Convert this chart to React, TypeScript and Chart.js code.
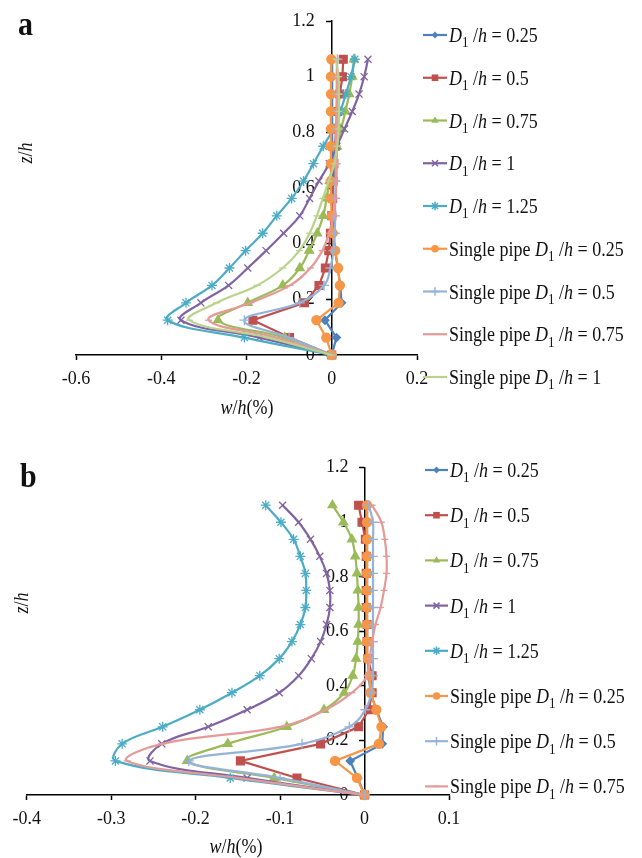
import React, { useEffect, useRef } from 'react';
import { Chart, registerables } from 'chart.js';

Chart.register(...registerables);

// ---------- data ----------
const zLevels = [0, 0.0625, 0.125, 0.1875, 0.25, 0.3125, 0.375, 0.4375, 0.5, 0.5625, 0.625, 0.6875, 0.75, 0.8125, 0.875, 0.9375, 1.0, 1.0625];

// panel a
const aD025 = [0, 0.011, -0.016, 0.023, 0.02, 0.014, 0.008, 0.004, 0.002, 0.001, 0.001, 0.001, 0.001, 0.001, 0.001, 0.001, 0.001, 0.001];
const aD05 = [0, -0.099, -0.185, -0.064, -0.03, -0.015, -0.007, -0.003, 0, 0.002, 0.003, 0.005, 0.008, 0.01, 0.014, 0.019, 0.025, 0.027];
const aD075 = [0, -0.11, -0.267, -0.197, -0.115, -0.075, -0.053, -0.034, -0.02, -0.012, -0.005, 0.003, 0.012, 0.022, 0.032, 0.041, 0.048, 0.052];
const aD1 = [0, -0.17, -0.354, -0.307, -0.242, -0.197, -0.154, -0.113, -0.075, -0.052, -0.03, -0.006, 0.012, 0.03, 0.048, 0.064, 0.076, 0.085];
const aD125 = [0, -0.205, -0.385, -0.342, -0.281, -0.24, -0.202, -0.162, -0.129, -0.094, -0.066, -0.043, -0.02, 0.004, 0.02, 0.033, 0.045, 0.054];
const aSP025 = [0, -0.013, -0.036, 0.016, 0.019, 0.015, 0.008, 0.002, 0, -0.002, -0.002, -0.002, -0.002, -0.002, -0.002, -0.002, -0.002, -0.001];
const aSP05 = [0, -0.1, -0.205, -0.075, -0.018, -0.003, 0.004, 0.007, 0.008, 0.008, 0.009, 0.009, 0.01, 0.01, 0.011, 0.012, 0.012, 0.013];
const aSP075 = [0, -0.13, -0.289, -0.19, -0.098, -0.05, -0.022, -0.006, 0.004, 0.009, 0.011, 0.012, 0.012, 0.012, 0.012, 0.012, 0.012, 0.012];
const aSP1 = [0, -0.15, -0.334, -0.27, -0.175, -0.115, -0.076, -0.052, -0.035, -0.021, -0.007, 0.006, 0.013, 0.016, 0.017, 0.017, 0.016, 0.01];

// panel b
const bD025 = [0, -0.008, -0.017, 0.021, 0.022, 0.014, 0.007, 0.005, 0.004, 0.003, 0.003, 0.003, 0.003, 0.003, 0.003, 0.003, 0.003, 0.003];
const bD05 = [0, -0.08, -0.147, -0.052, -0.007, 0.005, 0.009, 0.009, 0.004, 0.003, 0.003, 0.002, 0.002, 0.002, 0.002, 0.001, -0.003, -0.007];
const bD075 = [0, -0.107, -0.21, -0.162, -0.092, -0.048, -0.024, -0.014, -0.01, -0.008, -0.007, -0.007, -0.008, -0.009, -0.011, -0.015, -0.025, -0.038];
const bD1 = [0, -0.139, -0.254, -0.24, -0.185, -0.139, -0.101, -0.078, -0.063, -0.052, -0.045, -0.041, -0.041, -0.045, -0.053, -0.064, -0.078, -0.097];
const bD125 = [0, -0.159, -0.295, -0.287, -0.239, -0.195, -0.157, -0.124, -0.101, -0.086, -0.076, -0.07, -0.069, -0.07, -0.076, -0.084, -0.099, -0.117];
const bSP025 = [0, -0.009, -0.035, 0.017, 0.02, 0.014, 0.007, 0.006, 0.004, 0.003, 0.003, 0.003, 0.003, 0.003, 0.003, 0.003, 0.003, 0.003];
const bSP05 = [0, -0.1, -0.208, -0.074, -0.018, 0.001, 0.008, 0.01, 0.01, 0.01, 0.01, 0.01, 0.01, 0.01, 0.01, 0.01, 0.01, 0.005];
const bSP075 = [0, -0.15, -0.281, -0.24, -0.1, -0.046, -0.015, 0.003, 0.006, 0.009, 0.013, 0.019, 0.023, 0.026, 0.026, 0.024, 0.02, 0.009];

const legendPrefixes = ['', '', '', '', '', 'Single pipe ', 'Single pipe ', 'Single pipe ', 'Single pipe '];
const legendValues = ['0.25', '0.5', '0.75', '1', '1.25', '0.25', '0.5', '0.75', '1'];

const xTicksA = { min: -0.6, max: 0.2, step: 0.2 };
const xTicksB = { min: -0.4, max: 0.1, step: 0.1 };
const yTicks = { min: 0, max: 1.2, step: 0.2 };

// ---------- styles ----------
const FONT = '"Liberation Serif", "Times New Roman", Times, serif';
const COLORS = ['#4F81BD', '#C0504D', '#9BBB59', '#8064A2', '#4BACC6', '#F79646', '#95B3D7', '#E39A98', '#B9D38C'];
const MARKERS = ['rectRot', 'rect', 'triangle', 'crossRot', 'star', 'circle', 'cross', 'line', 'line'];
const RADII = [4, 5.5, 5, 5, 5, 4.5, 5, 3.5, 3.5];
const TENSIONS = [0, 0, 0.4, 0.4, 0.4, 0, 0.4, 0.4, 0.4];
const VSTRETCH = 1.15;

type Run = [string, 'n' | 'i' | 's' | 'b'];

function fontFor(kind: string, size: number) {
  if (kind === 'i') return `italic ${size}px ${FONT}`;
  if (kind === 'b') return `bold ${size}px ${FONT}`;
  if (kind === 's') return `${Math.round(size * 0.72)}px ${FONT}`;
  return `${size}px ${FONT}`;
}

function runsWidth(ctx: CanvasRenderingContext2D, runs: Run[], size: number) {
  let w = 0;
  for (const [t, k] of runs) {
    ctx.font = fontFor(k, size);
    w += ctx.measureText(t).width;
  }
  return w;
}

// draws runs with baseline at (x, y), stretched vertically around the baseline
function drawRuns(ctx: CanvasRenderingContext2D, runs: Run[], x: number, y: number, size: number) {
  ctx.save();
  ctx.translate(x, y);
  ctx.scale(1, VSTRETCH);
  let cx = 0;
  ctx.textAlign = 'left';
  ctx.textBaseline = 'alphabetic';
  for (const [t, k] of runs) {
    ctx.font = fontFor(k, size);
    ctx.fillText(t, cx, k === 's' ? size * 0.26 : 0);
    cx += ctx.measureText(t).width;
  }
  ctx.restore();
}

function drawMarker(ctx: CanvasRenderingContext2D, style: string, x: number, y: number, r: number, color: string) {
  ctx.save();
  ctx.fillStyle = color;
  ctx.strokeStyle = color;
  ctx.lineWidth = 1.5;
  ctx.beginPath();
  if (style === 'rectRot') {
    ctx.moveTo(x, y - r); ctx.lineTo(x + r, y); ctx.lineTo(x, y + r); ctx.lineTo(x - r, y); ctx.closePath(); ctx.fill();
  } else if (style === 'rect') {
    const s = r * Math.SQRT1_2;
    ctx.rect(x - s, y - s, 2 * s, 2 * s); ctx.fill();
  } else if (style === 'triangle') {
    ctx.moveTo(x, y - r); ctx.lineTo(x + r * 0.866, y + r * 0.5); ctx.lineTo(x - r * 0.866, y + r * 0.5); ctx.closePath(); ctx.fill();
  } else if (style === 'circle') {
    ctx.arc(x, y, r, 0, Math.PI * 2); ctx.fill();
  } else if (style === 'cross' || style === 'star' || style === 'crossRot') {
    if (style !== 'crossRot') {
      ctx.moveTo(x - r, y); ctx.lineTo(x + r, y); ctx.moveTo(x, y - r); ctx.lineTo(x, y + r);
    }
    if (style !== 'cross') {
      const d = r * Math.SQRT1_2;
      ctx.moveTo(x - d, y - d); ctx.lineTo(x + d, y + d); ctx.moveTo(x - d, y + d); ctx.lineTo(x + d, y - d);
    }
    ctx.stroke();
  } else if (style === 'line') {
    ctx.moveTo(x - r, y); ctx.lineTo(x + r, y); ctx.stroke();
  }
  ctx.restore();
}

type Panel = {
  letter: string;
  letterPos: [number, number];
  series: number[][];
  xr: { min: number; max: number; step: number };
  labelShift: number; // y tick labels sit this far (in x units) left of the axis
  padding: { left: number; right: number; top: number; bottom: number };
  legend: { x0: number; x1: number; tx: number; y0: number; dy: number };
  yTitle: [number, number];
  xTitle: [number, number];
  height: number;
};

const XAXIS_H = 34;

const panelA: Panel = {
  letter: 'a',
  letterPos: [18, 35],
  series: [aD025, aD05, aD075, aD1, aD125, aSP025, aSP05, aSP075, aSP1],
  xr: xTicksA,
  labelShift: 0.04,
  padding: { left: 76, right: 225, top: 21, bottom: 75 - XAXIS_H },
  legend: { x0: 423, x1: 447, tx: 449, y0: 35, dy: 42.75 },
  yTitle: [26, 153],
  xTitle: [247, 408],
  height: 430,
};

const panelB: Panel = {
  letter: 'b',
  letterPos: [20, 57],
  series: [bD025, bD05, bD075, bD1, bD125, bSP025, bSP05, bSP075],
  xr: xTicksB,
  labelShift: 0.019,
  padding: { left: 26.7, right: 193, top: 37.7, bottom: 63 - XAXIS_H },
  legend: { x0: 425, x1: 448, tx: 450, y0: 40, dy: 45.2 },
  yTitle: [22, 173],
  xTitle: [236, 417],
  height: 428,
};

function fmt(v: number) {
  return String(parseFloat(Number(v).toFixed(2)));
}

function decorPlugin(p: Panel) {
  return {
    id: 'decor' + p.letter,
    afterDraw(chart: any) {
      const ctx: CanvasRenderingContext2D = chart.ctx;
      ctx.save();
      ctx.fillStyle = '#111';
      // panel letter
      drawRuns(ctx, [[p.letter, 'b']], p.letterPos[0], p.letterPos[1], 30);
      // x title
      const xRuns: Run[] = [['w', 'i'], ['/', 'n'], ['h', 'i'], ['(%)', 'n']];
      const xw = runsWidth(ctx, xRuns, 18);
      drawRuns(ctx, xRuns, p.xTitle[0] - xw / 2, p.xTitle[1] + 6, 18);
      // y title
      const yRuns: Run[] = [['z', 'i'], ['/', 'n'], ['h', 'i']];
      const yw = runsWidth(ctx, yRuns, 18);
      ctx.save();
      ctx.translate(p.yTitle[0], p.yTitle[1]);
      ctx.rotate(-Math.PI / 2);
      drawRuns(ctx, yRuns, -yw / 2, 6, 18);
      ctx.restore();
      // legend
      p.series.forEach((_, i) => {
        const y = p.legend.y0 + i * p.legend.dy;
        const c = COLORS[i];
        ctx.save();
        ctx.strokeStyle = c;
        ctx.lineWidth = 2.2;
        ctx.beginPath();
        ctx.moveTo(p.legend.x0, y);
        ctx.lineTo(p.legend.x1, y);
        ctx.stroke();
        ctx.restore();
        drawMarker(ctx, MARKERS[i], (p.legend.x0 + p.legend.x1) / 2, y, RADII[i] * 0.85, c);
        const runs: Run[] = [];
        if (legendPrefixes[i]) runs.push([legendPrefixes[i], 'n']);
        runs.push(['D', 'i'], ['1', 's'], [' /', 'n'], ['h', 'i'], [' = ' + legendValues[i], 'n']);
        ctx.fillStyle = '#111';
        drawRuns(ctx, runs, p.legend.tx, y + 7, 18);
      });
      ctx.restore();
    },
  };
}

function makeConfig(p: Panel): any {
  const n = p.series.length;
  const tickFont = { family: FONT, size: 18 };
  return {
    type: 'scatter',
    data: {
      datasets: p.series.map((vals, i) => ({
        label: legendPrefixes[i] + 'D1/h = ' + legendValues[i],
        data: zLevels.map((z, k) => ({ x: vals[k], y: z })),
        showLine: true,
        borderColor: COLORS[i],
        backgroundColor: COLORS[i],
        borderWidth: 2.2,
        pointStyle: MARKERS[i],
        pointRadius: RADII[i],
        pointBackgroundColor: COLORS[i],
        pointBorderColor: COLORS[i],
        pointBorderWidth: 1.3,
        tension: TENSIONS[i],
        order: n - i,
        clip: false,
        xAxisID: 'x',
        yAxisID: 'y',
      })),
    },
    options: {
      responsive: false,
      maintainAspectRatio: false,
      animation: false,
      events: [],
      layout: { padding: p.padding },
      plugins: { legend: { display: false }, tooltip: { enabled: false } },
      scales: {
        x: {
          type: 'linear',
          position: 'bottom',
          min: p.xr.min,
          max: p.xr.max,
          afterFit: (s: any) => { s.height = XAXIS_H; },
          ticks: {
            stepSize: p.xr.step,
            color: '#111',
            font: tickFont,
            padding: 8,
            maxRotation: 0,
            autoSkip: false,
            callback: (v: any) => fmt(v),
          },
          grid: { drawOnChartArea: false, drawTicks: true, tickLength: 5, color: '#000', tickWidth: 1.5 },
          border: { display: true, color: '#000', width: 1.5 },
        },
        y: {
          type: 'linear',
          position: { x: 0 },
          min: yTicks.min,
          max: yTicks.max,
          afterFit: (s: any) => { s.width = 0; },
          ticks: { stepSize: yTicks.step, display: false },
          grid: { drawOnChartArea: false, drawTicks: true, tickLength: 5, color: '#000', tickWidth: 1.5 },
          border: { display: true, color: '#000', width: 1.5 },
        },
        yl: {
          type: 'linear',
          position: { x: -p.labelShift },
          min: yTicks.min,
          max: yTicks.max,
          afterFit: (s: any) => { s.width = 0; },
          ticks: {
            stepSize: yTicks.step,
            color: '#111',
            font: tickFont,
            autoSkip: false,
            callback: (v: any) => fmt(v),
          },
          grid: { display: false },
          border: { display: false },
        },
      },
    },
    plugins: [decorPlugin(p)],
  };
}

function PanelChart({ panel, top }: { panel: Panel; top: number }) {
  const ref = useRef<HTMLCanvasElement>(null);
  useEffect(() => {
    const chart = new Chart(ref.current as HTMLCanvasElement, makeConfig(panel));
    return () => chart.destroy();
  }, [panel]);
  return (
    <canvas
      ref={ref}
      width={642}
      height={panel.height}
      style={{ position: 'absolute', left: 0, top, width: 642, height: panel.height }}
    />
  );
}

export default function App() {
  return (
    <div style={{ position: 'absolute', left: 0, top: 0, width: 642, height: 858, background: '#fff', overflow: 'hidden' }}>
      <PanelChart panel={panelA} top={0} />
      <PanelChart panel={panelB} top={430} />
    </div>
  );
}
